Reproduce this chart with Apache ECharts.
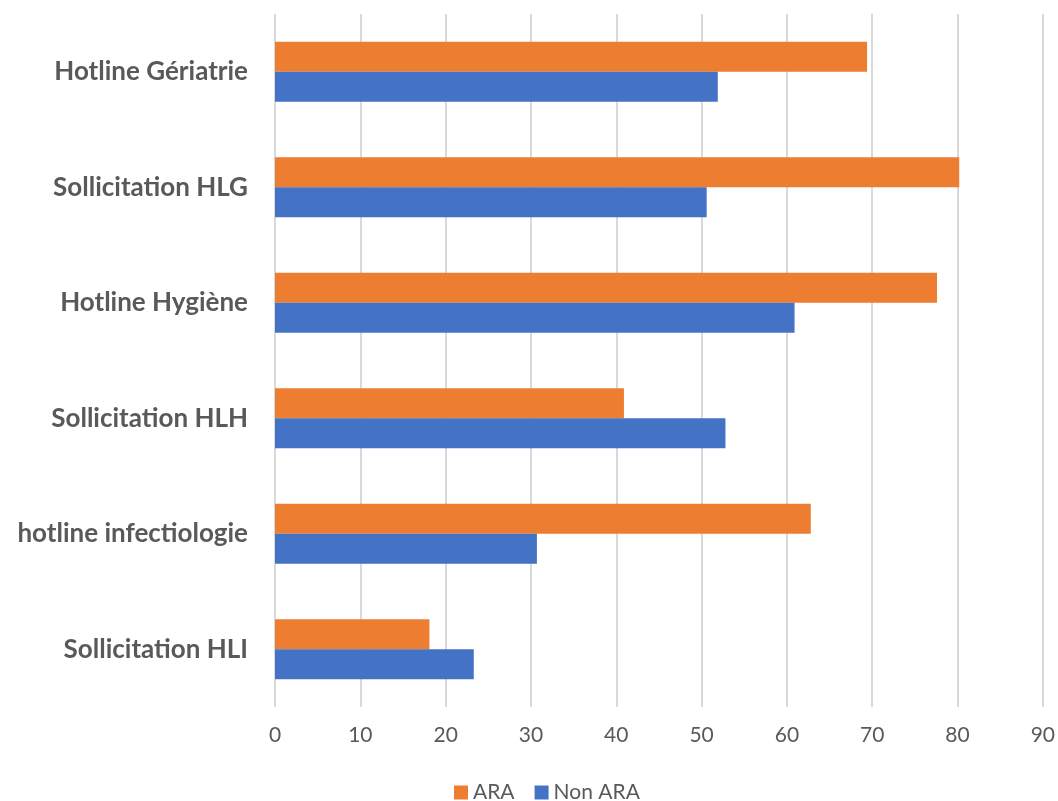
<!DOCTYPE html>
<html><head><meta charset="utf-8">
<script src="https://cdn.jsdelivr.net/npm/echarts@6/dist/echarts.min.js"></script>
<style>html,body{margin:0;padding:0;background:#fff}#c{width:1058px;height:801px}</style>
</head><body><div id="c"></div>
<script>
const categories = ["Sollicitation HLI","hotline infectiologie","Sollicitation HLH","Hotline Hygiène","Sollicitation HLG","Hotline Gériatrie"];
const araValues = [18.1, 62.8, 40.9, 77.6, 80.2, 69.4];
const nonAraValues = [23.3, 30.7, 52.8, 60.9, 50.6, 51.9];
const xTicks = [0,10,20,30,40,50,60,70,80,90];

const chart = echarts.init(document.getElementById('c'));
chart.setOption({
  animation:false,
  textStyle:{fontFamily:'Lato'},
  grid:{left:275,top:14,width:770,height:693,containLabel:false},
  legend:{data:['ARA','Non ARA'],top:777,left:449,itemWidth:14,itemHeight:14,itemGap:20,
    icon:'rect',textStyle:{fontSize:21,color:'#595959',fontFamily:'Lato'}},
  xAxis:{type:'value',min:xTicks[0],max:xTicks[xTicks.length-1],interval:10,
    axisLine:{show:false},axisTick:{show:false},
    splitLine:{lineStyle:{color:'#d9d9d9',width:2}},
    axisLabel:{fontSize:21,color:'#595959',margin:18}},
  yAxis:{type:'category',data:categories,inverse:false,
    axisLine:{show:false},axisTick:{show:false},
    axisLabel:{fontSize:26,fontWeight:'bold',color:'#595959',margin:27}},
  series:[
    {name:'ARA',type:'bar',data:araValues,itemStyle:{color:'#ED7D31'},barGap:'0%',barCategoryGap:'48%'},
    {name:'Non ARA',type:'bar',data:nonAraValues,itemStyle:{color:'#4472C4'},barGap:'0%',barCategoryGap:'48%'}
  ]
});
</script></body></html>
